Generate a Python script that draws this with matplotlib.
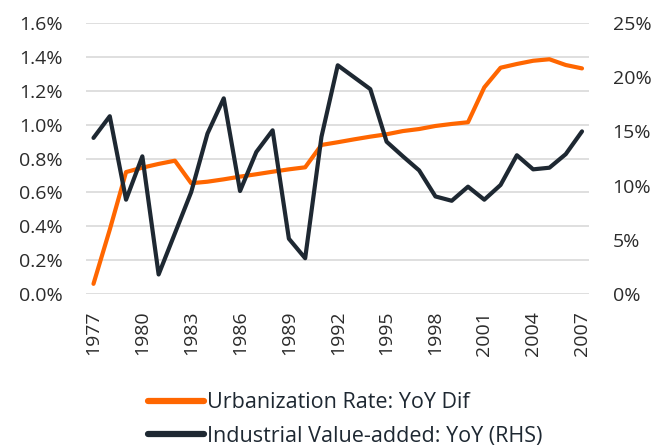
import matplotlib
matplotlib.use("Agg")
import matplotlib.pyplot as plt
from matplotlib.ticker import FuncFormatter

plt.rcParams['font.family'] = ['Open Sans', 'DejaVu Sans']

# Data
years = list(range(1977, 2008))
urbanization = [0.06, 0.38, 0.72, 0.746, 0.768, 0.787, 0.654, 0.663, 0.677, 0.693,
                0.707, 0.722, 0.736, 0.748, 0.88, 0.896, 0.913, 0.929, 0.943, 0.962,
                0.974, 0.992, 1.004, 1.014, 1.22, 1.336, 1.358, 1.377, 1.386, 1.352,
                1.332]
industrial = [14.4, 16.4, 8.7, 12.7, 1.8, 5.6, 9.4, 14.8, 18.05, 9.5,
              13.1, 15.1, 5.1, 3.3, 14.5, 21.1, 20.0, 18.9, 14.05, 12.7,
              11.4, 9.0, 8.6, 9.9, 8.7, 10.06, 12.8, 11.5, 11.65, 12.9,
              15.0]
xtick_years = list(range(1977, 2008, 3))

orange = "#FF6600"
dark = "#1E2832"
text_color = "#2B2B2B"

fig = plt.figure(figsize=(6.7, 4.48), dpi=100)
ax = fig.add_axes([86 / 670, 1 - 294 / 448, (589 - 86) / 670, (294 - 23) / 448])
ax2 = ax.twinx()

ln1, = ax.plot(years, urbanization, color=orange, lw=3, solid_capstyle='round',
               label="Urbanization Rate: YoY Dif", zorder=3)
ln2, = ax2.plot(years, industrial, color=dark, lw=3, solid_capstyle='round',
                label="Industrial Value-added: YoY (RHS)", zorder=3)

ax.set_xlim(1976.54, 2007.43)
ax.set_ylim(0, 1.6)
ax.set_yticks([i * 0.2 for i in range(9)])
ax.yaxis.set_major_formatter(FuncFormatter(lambda v, p: f"{v:.1f}%"))
ax2.set_ylim(0, 25)
ax2.set_yticks(range(0, 26, 5))
ax2.yaxis.set_major_formatter(FuncFormatter(lambda v, p: f"{v:.0f}%"))

ax.set_xticks(xtick_years)
ax.set_xticklabels([str(y) for y in xtick_years], rotation=90)

ax.grid(axis='y', color="#D9D9D9", lw=1.2)
ax.set_axisbelow(True)
for a in (ax, ax2):
    for s in a.spines.values():
        s.set_visible(False)
    a.tick_params(length=0, labelsize=14, colors=text_color)
ax.tick_params(axis='y', pad=17)
ax2.tick_params(axis='y', pad=17)
ax.tick_params(axis='x', pad=12)

leg = fig.legend(handles=[ln1, ln2], loc='center left',
                 bbox_to_anchor=(148 / 670, 1 - 419.5 / 448),
                 frameon=False, fontsize=15.5, handlelength=2.6, handletextpad=0.15,
                 labelspacing=0.58, borderpad=0, borderaxespad=0, labelcolor=dark)
for h in leg.legend_handles:
    h.set_linewidth(4.5)

fig.savefig("out.png", dpi=100)
